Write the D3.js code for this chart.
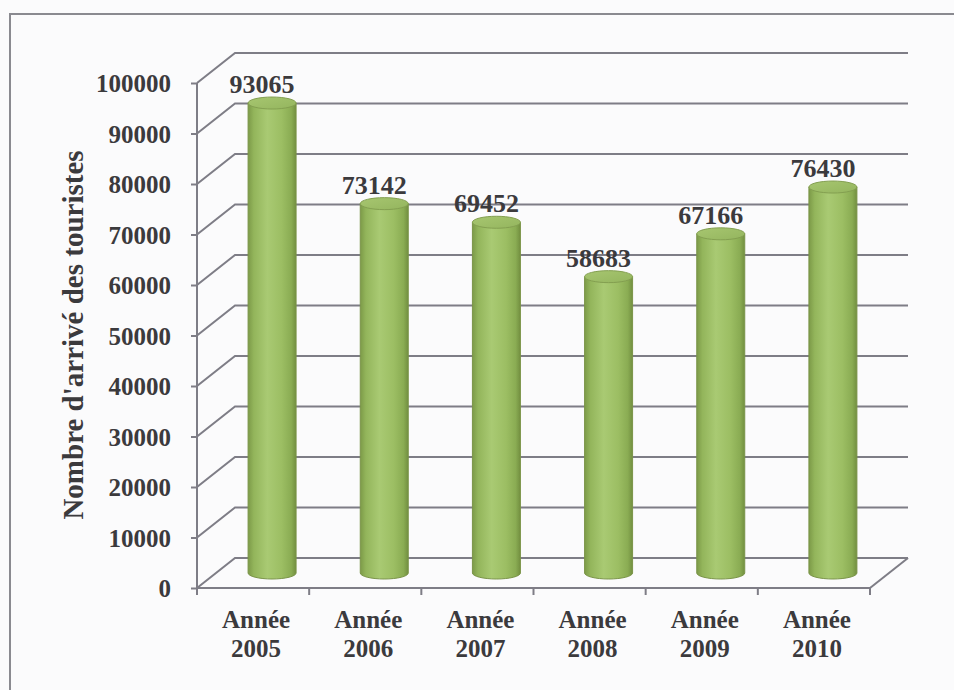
<!DOCTYPE html>
<html>
<head>
<meta charset="utf-8">
<script src="https://cdn.jsdelivr.net/npm/d3@7/dist/d3.min.js"></script>
<style>
  html, body { margin: 0; padding: 0; background: #fbfbfc; }
  svg { display: block; }
  text { font-family: "Liberation Serif", "Times New Roman", serif; font-weight: bold; fill: #3b3a3d; }
</style>
</head>
<body>
<svg id="chart" width="954" height="690"></svg>
<script>
// Tourist arrivals per year
const categories = ["Année 2005", "Année 2006", "Année 2007", "Année 2008", "Année 2009", "Année 2010"];
const arrivals = [93065, 73142, 69452, 58683, 67166, 76430];
const yTicks = [0, 10000, 20000, 30000, 40000, 50000, 60000, 70000, 80000, 90000, 100000];
const yTitle = "Nombre d'arrivé des touristes";

(function () {
const svg = d3.select("#chart");
const W = 954, H = 690;

// frame
svg.append("rect")
  .attr("x", 10).attr("y", 14).attr("width", W + 20).attr("height", H + 20)
  .attr("fill", "#fbfbfc").attr("stroke", "#8a8a90").attr("stroke-width", 2);

// plot box (front face) and depth offset of the 3D walls
const pLeft = 197, pRight = 870, pBottom = 588, pTop = 83;
const depthX = 38, depthY = -30;

const x = d3.scaleBand().domain(categories).range([pLeft, pRight]).padding(0);
const y = d3.scaleLinear().domain([0, 100000]).range([pBottom, pTop]);

const gridColor = "#7e7d86";

// gridlines: side wall diagonal + back wall horizontal
const grid = svg.append("g").attr("fill", "none").attr("stroke", gridColor).attr("stroke-width", 2);
yTicks.forEach(t => {
  const yf = y(t);
  grid.append("path")
    .attr("d", `M${pLeft},${yf}L${pLeft + depthX},${yf + depthY}L${pRight + depthX},${yf + depthY}`);
});
// floor edge on the right
grid.append("path").attr("d", `M${pRight},${pBottom}L${pRight + depthX},${pBottom + depthY}`);

// y axis (front)
const yAxis = d3.axisLeft(y).tickValues(yTicks).tickSize(6).tickPadding(20).tickFormat(d3.format("d"));
const gy = svg.append("g").attr("transform", `translate(${pLeft},0)`).call(yAxis);
gy.select(".domain").attr("stroke", gridColor).attr("stroke-width", 2).attr("d", `M0,${pBottom + 1}V${pTop}`);
gy.selectAll(".tick line").attr("stroke", gridColor).attr("stroke-width", 2);
gy.selectAll(".tick text")
  .attr("font-size", 25).attr("font-family", "Liberation Serif, serif").attr("font-weight", "bold")
  .attr("fill", "#3b3a3d").attr("dy", "0.34em");

// x axis (front floor edge) with ticks at category boundaries
const boundaries = categories.map(c => x(c)).concat([pRight]);
const gx = svg.append("g").attr("stroke", gridColor).attr("stroke-width", 2);
gx.append("line").attr("x1", pLeft).attr("x2", pRight).attr("y1", pBottom).attr("y2", pBottom);
gx.selectAll("line.tk").data(boundaries).join("line").attr("class", "tk")
  .attr("x1", d => d).attr("x2", d => d).attr("y1", pBottom).attr("y2", pBottom + 7);

// category labels
const xl = svg.append("g");
categories.forEach(c => {
  const parts = c.split(" ");
  const cx = x(c) + x.bandwidth() / 2 + 3;
  const t = xl.append("text").attr("text-anchor", "middle").attr("font-size", 25);
  t.append("tspan").attr("x", cx).attr("y", 628).text(parts[0]);
  t.append("tspan").attr("x", cx).attr("y", 657).text(parts[1]);
});

// y title
svg.append("text")
  .attr("transform", "translate(83,335) rotate(-90)")
  .attr("text-anchor", "middle").attr("font-size", 29)
  .text(yTitle);

// cylinder shading
const defs = svg.append("defs");
const body = defs.append("linearGradient").attr("id", "cylBody").attr("x1", 0).attr("x2", 1).attr("y1", 0).attr("y2", 0);
[[0, "#7c9a48"], [0.12, "#93b55b"], [0.4, "#a9ca73"], [0.7, "#9cbe63"], [0.9, "#8aac53"], [1, "#728f40"]]
  .forEach(([o, c]) => body.append("stop").attr("offset", o).attr("stop-color", c));
const cap = defs.append("linearGradient").attr("id", "cylTop").attr("x1", 0).attr("x2", 1).attr("y1", 0).attr("y2", 1);
[[0, "#a7c670"], [1, "#94b55e"]].forEach(([o, c]) => cap.append("stop").attr("offset", o).attr("stop-color", c));

const rx = 24, ry = 6;
const bars = svg.append("g");
categories.forEach((c, i) => {
  const cx = x(c) + x.bandwidth() / 2 + depthX / 2;
  const yb = y(0) + depthY / 2;
  const yt = y(arrivals[i]) + depthY / 2;
  bars.append("path")
    .attr("d", `M${cx - rx},${yt}V${yb}A${rx},${ry} 0 0 0 ${cx + rx},${yb}V${yt}Z`)
    .attr("fill", "url(#cylBody)").attr("stroke", "#7a9448").attr("stroke-width", 1);
  bars.append("ellipse")
    .attr("cx", cx).attr("cy", yt).attr("rx", rx).attr("ry", ry)
    .attr("fill", "url(#cylTop)").attr("stroke", "#839f50").attr("stroke-width", 1);
  // value label
  svg.append("text")
    .attr("x", cx - 10).attr("y", yt - 10)
    .attr("text-anchor", "middle").attr("font-size", 26)
    .text(arrivals[i]);
});
})();
</script>
</body>
</html>
